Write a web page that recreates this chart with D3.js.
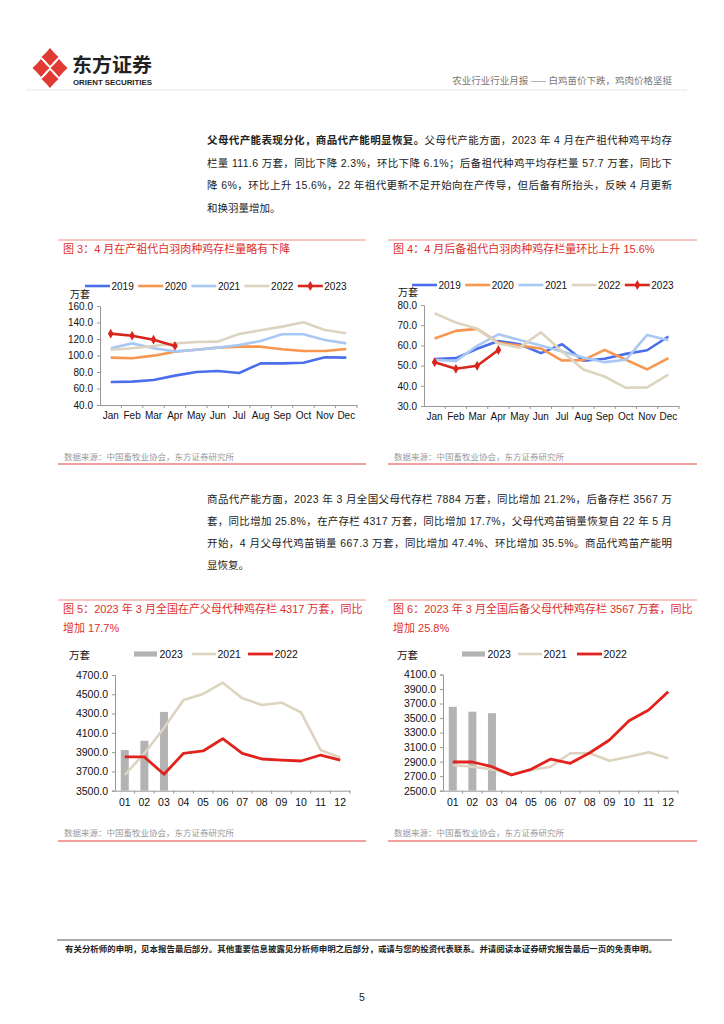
<!DOCTYPE html>
<html><head><meta charset="utf-8">
<script src="https://cdn.jsdelivr.net/npm/d3@7"></script>
<style>body{margin:0;background:#fff} svg{display:block}</style>
</head><body><svg id="page" width="724" height="1024"></svg>
<script>
// ---------- DATA ----------
const months = ["Jan","Feb","Mar","Apr","May","Jun","Jul","Aug","Sep","Oct","Nov","Dec"];
const monthNums = ["01","02","03","04","05","06","07","08","09","10","11","12"];
const yearsA = ["2019","2020","2021","2022","2023"];

// Fig 3: in-production grandparent stock (万套)
const f3_2019 = [67.9,68.3,70.3,75.6,80.0,81.2,78.8,90.5,90.5,91.3,97.8,97.4];
const f3_2020 = [97.4,96.6,99.8,104.6,107.0,109.5,110.7,110.7,107.5,105.5,105.5,107.9];
const f3_2021 = [108.7,114.7,108.7,105.0,107.0,109.5,112.7,117.6,125.7,125.7,118.8,114.7];
const f3_2022 = [107.0,108.7,111.5,114.7,116.4,116.8,126.0,130.5,135.0,140.2,130.9,126.9];
const f3_2023 = [126.5,124.0,119.2,111.6];
const f3_ticks = [40,60,80,100,120,140,160];

// Fig 4: reserve grandparent stock (万套)
const f4_2019 = [53.2,53.7,58.3,62.2,60.6,56.2,60.6,52.4,53.4,55.8,57.6,64.4];
const f4_2020 = [63.4,67.2,68.2,61.4,59.9,58.5,52.5,52.7,57.8,52.9,48.1,53.7];
const f4_2021 = [52.9,52.2,59.8,65.5,62.7,59.9,57.0,54.0,51.7,52.9,65.2,62.6];
const f4_2022 = [75.9,71.3,68.2,60.9,58.9,66.5,57.0,48.1,44.6,39.0,39.2,45.5];
const f4_2023 = [51.7,48.4,49.9,57.7];
const f4_ticks = [30,40,50,60,70,80];

// Fig 5: in-production parent stock (万套)
const f5_bar2023 = [3922,4018,4317];
const f5_2021 = [3663,3888,4150,4440,4503,4620,4458,4389,4413,4313,3922,3842];
const f5_2022 = [3850,3850,3670,3888,3912,4039,3888,3829,3818,3808,3870,3818];
const f5_ticks = [3500,3700,3900,4100,4300,4500,4700];

// Fig 6: reserve parent stock (万套)
const f6_bar2023 = [3655,3588,3567];
const f6_2021 = [2854,2830,2794,2730,2785,2830,3015,3015,2913,2968,3028,2946];
const f6_2022 = [2895,2895,2830,2716,2794,2936,2877,3023,3198,3464,3611,3863];
const f6_ticks = [2500,2700,2900,3100,3300,3500,3700,3900,4100];

// ---------- STYLE ----------
const FONT = "'Liberation Sans', Arial, 'Noto Sans CJK SC', sans-serif";
const CJK = "'Noto Sans CJK SC', 'Liberation Sans', sans-serif";
const RED = "#E0302A";
const colA = {"2019":"#4B6EEB","2020":"#F7964F","2021":"#A9C9F5","2022":"#DDD4C0","2023":"#D9261C"};
const svg = d3.select("#page");

// ---------- HEADER ----------
const logo = svg.append("g").attr("fill","#E03A33");
[[50,57],[41,68],[59,68],[50,79]].forEach(([cx,cy])=>{
  logo.append("path").attr("d",`M${cx},${cy-9} Q${cx+4},${cy-4} ${cx+8.5},${cy} Q${cx+4},${cy+4} ${cx},${cy+9} Q${cx-4},${cy+4} ${cx-8.5},${cy} Q${cx-4},${cy-4} ${cx},${cy-9} Z`);
});
svg.append("text").attr("x",72).attr("y",72).attr("font-family",CJK).attr("font-weight","bold")
  .attr("font-size",19).attr("fill","#222").attr("textLength",80).attr("lengthAdjust","spacingAndGlyphs").text("东方证券");
svg.append("text").attr("x",73).attr("y",84.5).attr("font-family",FONT).attr("font-weight","bold")
  .attr("font-size",6.8).attr("fill","#222").attr("textLength",79).attr("lengthAdjust","spacingAndGlyphs").text("ORIENT SECURITIES");
svg.append("text").attr("x",672).attr("y",84).attr("text-anchor","end").attr("font-family",CJK)
  .attr("font-size",9.5).attr("fill","#777").text("农业行业行业月报 —— 白鸡苗价下跌，鸡肉价格坚挺");
svg.append("line").attr("x1",26).attr("x2",687).attr("y1",90).attr("y2",90).attr("stroke","#e6e6e6");

// ---------- PARAGRAPHS ----------
function para(lines, x, y0, lh, full){
  lines.forEach((ln,i)=>{
    const t = svg.append("text").attr("x",x).attr("y",y0+i*lh).attr("font-family",FONT)
      .attr("font-size",10.5).attr("fill","#222");
    if(i < lines.length-1) t.attr("textLength",full).attr("lengthAdjust","spacing");
    ln.forEach(seg=>{
      t.append("tspan").attr("font-weight",seg.b?"bold":"normal").text(seg.t);
    });
  });
}
para([
  [{t:"父母代产能表现分化，商品代产能明显恢复。",b:true},{t:"父母代产能方面，2023 年 4 月在产祖代种鸡平均存"}],
  [{t:"栏量 111.6 万套，同比下降 2.3%，环比下降 6.1%；后备祖代种鸡平均存栏量 57.7 万套，同比下"}],
  [{t:"降 6%，环比上升 15.6%，22 年祖代更新不足开始向在产传导，但后备有所抬头，反映 4 月更新"}],
  [{t:"和换羽量增加。"}]
], 207, 144, 22.5, 465);
para([
  [{t:"商品代产能方面，2023 年 3 月全国父母代存栏 7884 万套，同比增加 21.2%，后备存栏 3567 万"}],
  [{t:"套，同比增加 25.8%，在产存栏 4317 万套，同比增加 17.7%，父母代鸡苗销量恢复自 22 年 5 月"}],
  [{t:"开始，4 月父母代鸡苗销量 667.3 万套，同比增加 47.4%、环比增加 35.5%。商品代鸡苗产能明"}],
  [{t:"显恢复。"}]
], 207, 503, 22, 465);

// ---------- FRAME (titles, rules, source) ----------
function frame(x0, x1, yTop, titleLines, srcY, ruleY){
  svg.append("line").attr("x1",x0).attr("x2",x1).attr("y1",yTop).attr("y2",yTop).attr("stroke","#F08C86").attr("stroke-width",1);
  titleLines.forEach((t,i)=>{
    svg.append("text").attr("x",x0+5).attr("y",yTop+13+i*18.5).attr("font-family",FONT)
      .attr("font-size",11).attr("fill",RED).text(t);
  });
  svg.append("text").attr("x",x0+6).attr("y",srcY).attr("font-family",CJK).attr("font-size",8.5)
    .attr("fill","#9a9a9a").text("数据来源：中国畜牧业协会，东方证券研究所");
  svg.append("line").attr("x1",x0).attr("x2",x1).attr("y1",ruleY).attr("y2",ruleY).attr("stroke","#E8403A").attr("stroke-width",1.2);
}
frame(58,366,240,["图 3：4 月在产祖代白羽肉种鸡存栏量略有下降"],460,464);
frame(388,697,240,["图 4：4 月后备祖代白羽肉种鸡存栏量环比上升 15.6%"],460,464);
frame(58,366,600,["图 5：2023 年 3 月全国在产父母代种鸡存栏 4317 万套，同比","增加 17.7%"],836,841);
frame(388,697,600,["图 6：2023 年 3 月全国后备父母代种鸡存栏 3567 万套，同比","增加 25.8%"],836,841);

// ---------- AXES helper ----------
function axes(g, x, y, ticks, fmtSize, labelDy){
  const [xa, xb] = x.range();
  const [yb, yt] = y.range();
  const ya = g.append("g").attr("transform",`translate(${xa},0)`)
    .call(d3.axisLeft(y).tickValues(ticks).tickFormat(d3.format(".1f")).tickSize(3).tickPadding(4));
  ya.select(".domain").attr("stroke","#999");
  ya.selectAll(".tick line").attr("stroke","#999");
  ya.selectAll("text").attr("font-family",FONT).attr("font-size",fmtSize).attr("fill","#111");
  const xaG = g.append("g").attr("transform",`translate(0,${yb})`)
    .call(d3.axisBottom(x).tickSize(0).tickPadding(labelDy));
  xaG.select(".domain").attr("stroke","#999");
  xaG.selectAll("text").attr("font-family",FONT).attr("font-size",fmtSize).attr("fill","#111");
  const bounds = x.domain().slice(1).map(d=>x(d)).concat([xb]);
  g.append("g").selectAll("line").data(bounds).join("line")
    .attr("x1",d=>d).attr("x2",d=>d).attr("y1",yb).attr("y2",yb+3).attr("stroke","#999");
}

// ---------- LINE CHARTS (Fig 3, Fig 4) ----------
function lineChart(opt){
  const g = svg.append("g");
  const x = d3.scaleBand().domain(months).range(opt.xr);
  const y = d3.scaleLinear().domain(opt.dom).range(opt.yr);
  axes(g, x, y, opt.ticks, 10, 7);
  const line = d3.line().x((d,i)=>x(months[i])+x.bandwidth()/2).y(d=>y(d));
  yearsA.forEach((yr,k)=>{
    g.append("path").datum(opt.series[k]).attr("d",line).attr("fill","none")
      .attr("stroke",colA[yr]).attr("stroke-width",2.6).attr("stroke-linejoin","round");
  });
  g.append("g").selectAll("path").data(opt.series[4]).join("path")
    .attr("transform",(d,i)=>`translate(${x(months[i])+x.bandwidth()/2},${y(d)})`)
    .attr("d",d3.symbol(d3.symbolDiamond,28)).attr("fill",colA["2023"]);
  // legend
  yearsA.forEach((yr,k)=>{
    const lx = opt.legX + k*53.2;
    g.append("line").attr("x1",lx).attr("x2",lx+25).attr("y1",opt.legY).attr("y2",opt.legY)
      .attr("stroke",colA[yr]).attr("stroke-width",2.6);
    if(yr==="2023") g.append("path").attr("transform",`translate(${lx+12.5},${opt.legY})`)
      .attr("d",d3.symbol(d3.symbolDiamond,28)).attr("fill",colA[yr]);
    g.append("text").attr("x",lx+26.5).attr("y",opt.legY+3.6).attr("font-family",FONT)
      .attr("font-size",10).attr("fill","#111").text(yr);
  });
  g.append("text").attr("x",opt.unitX).attr("y",opt.unitY).attr("font-family",CJK)
    .attr("font-size",10).attr("fill","#111").text("万套");
}
lineChart({xr:[100,357], yr:[405,306], dom:[40,160], ticks:f3_ticks,
  series:[f3_2019,f3_2020,f3_2021,f3_2022,f3_2023], legX:85, legY:286, unitX:70, unitY:298});
lineChart({xr:[424,679], yr:[406,305], dom:[30,80], ticks:f4_ticks,
  series:[f4_2019,f4_2020,f4_2021,f4_2022,f4_2023], legX:412, legY:285, unitX:398, unitY:296});

// ---------- BAR + LINE CHARTS (Fig 5, Fig 6) ----------
function comboChart(opt){
  const g = svg.append("g");
  const x = d3.scaleBand().domain(monthNums).range(opt.xr);
  const y = d3.scaleLinear().domain(opt.dom).range(opt.yr);
  axes(g, x, y, opt.ticks, 10.5, 8);
  const bw = 8;
  g.append("g").selectAll("rect").data(opt.bars).join("rect")
    .attr("x",(d,i)=>x(monthNums[i])+x.bandwidth()/2-bw/2).attr("width",bw)
    .attr("y",d=>y(d)).attr("height",d=>y(opt.dom[0])-y(d)).attr("fill","#B3B3B3");
  const line = d3.line().x((d,i)=>x(monthNums[i])+x.bandwidth()/2).y(d=>y(d));
  g.append("path").datum(opt.l2021).attr("d",line).attr("fill","none").attr("stroke","#DDD4C0").attr("stroke-width",2.6).attr("stroke-linejoin","round");
  g.append("path").datum(opt.l2022).attr("d",line).attr("fill","none").attr("stroke","#E2231D").attr("stroke-width",2.8).attr("stroke-linejoin","round");
  const L = opt.leg;
  g.append("rect").attr("x",L[0]).attr("y",opt.legY-2.6).attr("width",23).attr("height",5.2).attr("fill","#B3B3B3");
  g.append("text").attr("x",L[0]+25.5).attr("y",opt.legY+3.8).attr("font-family",FONT).attr("font-size",10.5).attr("fill","#111").text("2023");
  g.append("line").attr("x1",L[1]).attr("x2",L[1]+24).attr("y1",opt.legY).attr("y2",opt.legY).attr("stroke","#DDD4C0").attr("stroke-width",2.6);
  g.append("text").attr("x",L[1]+25.5).attr("y",opt.legY+3.8).attr("font-family",FONT).attr("font-size",10.5).attr("fill","#111").text("2021");
  g.append("line").attr("x1",L[2]).attr("x2",L[2]+25).attr("y1",opt.legY).attr("y2",opt.legY).attr("stroke","#E2231D").attr("stroke-width",2.8);
  g.append("text").attr("x",L[2]+26.5).attr("y",opt.legY+3.8).attr("font-family",FONT).attr("font-size",10.5).attr("fill","#111").text("2022");
  g.append("text").attr("x",opt.unitX).attr("y",opt.legY+4.5).attr("font-family",CJK)
    .attr("font-size",10.5).attr("fill","#111").text("万套");
}
comboChart({xr:[115,350], yr:[790.7,675], dom:[3500,4700], ticks:f5_ticks,
  bars:f5_bar2023, l2021:f5_2021, l2022:f5_2022, leg:[134,192,248], legY:654, unitX:69});
comboChart({xr:[443,678], yr:[790.7,674.5], dom:[2500,4100], ticks:f6_ticks,
  bars:f6_bar2023, l2021:f6_2021, l2022:f6_2022, leg:[462,518,577], legY:654, unitX:397});

// ---------- FOOTER ----------
svg.append("line").attr("x1",57).attr("x2",672).attr("y1",940).attr("y2",940).attr("stroke","#555").attr("stroke-width",1);
svg.append("text").attr("x",65).attr("y",952).attr("font-family",CJK).attr("font-size",8).attr("font-weight","bold")
  .attr("fill","#222").attr("textLength",592).attr("lengthAdjust","spacingAndGlyphs")
  .text("有关分析师的申明，见本报告最后部分。其他重要信息披露见分析师申明之后部分，或请与您的投资代表联系。并请阅读本证券研究报告最后一页的免责申明。");
svg.append("text").attr("x",362).attr("y",1001).attr("text-anchor","middle").attr("font-family",FONT)
  .attr("font-size",10.5).attr("fill","#222").text("5");
</script></body></html>
